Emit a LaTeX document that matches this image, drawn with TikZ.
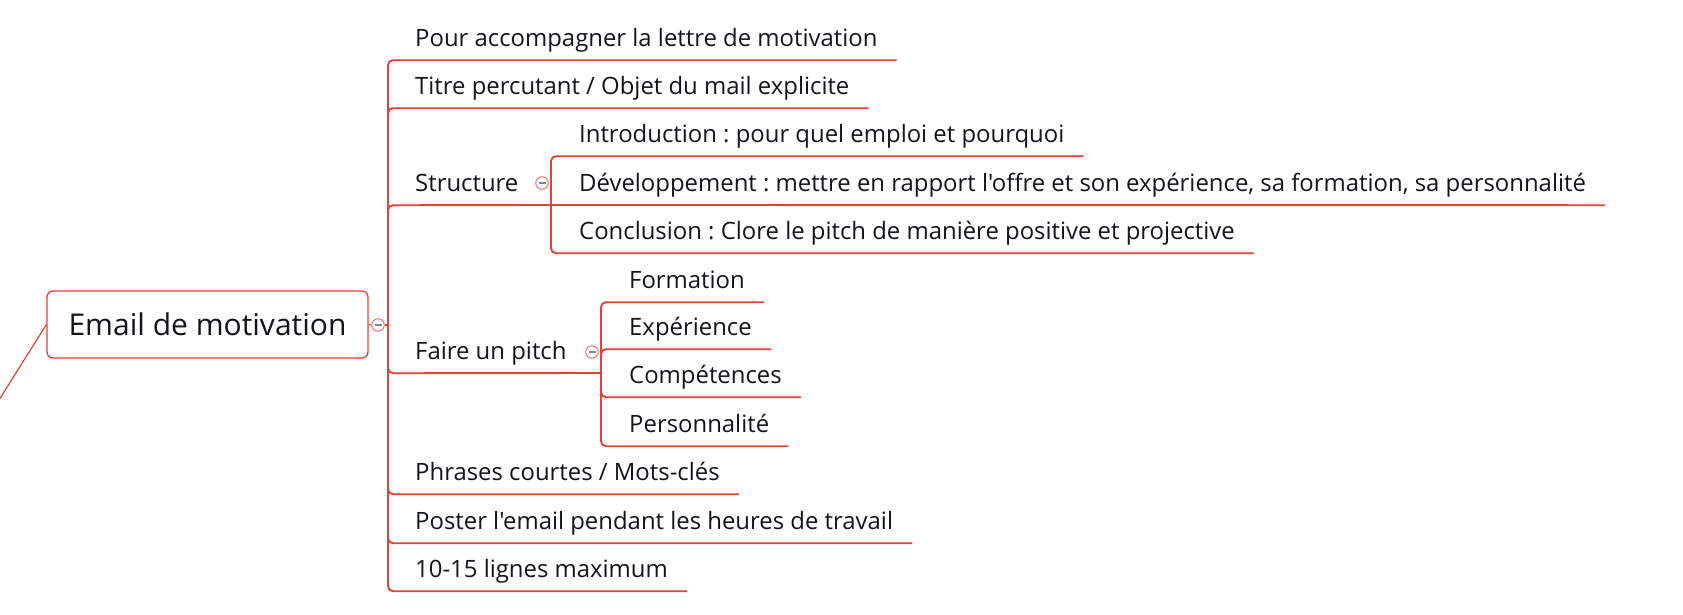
\documentclass[tikz,border=0pt]{standalone}
\usepackage{fontspec}
\setmainfont{Open Sans}[Ligatures=TeXOff]
\frenchspacing
\usetikzlibrary{calc}
\definecolor{branchred}{RGB}{226,66,56}
\definecolor{inkdark}{RGB}{20,20,26}
\definecolor{togglegrey}{RGB}{120,135,165}

\begin{document}
\begin{tikzpicture}[x=1pt, y=-1pt,
  link/.style={draw=branchred, line width=1.9pt, rounded corners=5pt},
  thinlink/.style={draw=branchred, line width=1.2pt},
  topic/.style={anchor=base west, inner sep=0pt, text depth=14pt, text=inkdark, font=\fontsize{23.9}{28}\selectfont},
  central/.style={draw=branchred, line width=1.3pt, rounded corners=6pt, minimum width=321pt, minimum height=67pt, inner sep=0pt, text=inkdark, font=\fontsize{30}{36}\selectfont},
  toggle/.style={circle, draw=branchred!75, line width=1pt, fill=white, minimum size=12.5pt, inner sep=0pt,
    path picture={\draw[togglegrey, line width=1.1pt] ($(path picture bounding box.center)+(-3.5pt,0)$) -- ++(7pt,0);}}]
\useasboundingbox (0,0) rectangle (1683,614);

% root
\node[central] (root) at (207.5,324.5) {Email de motivation};
\node[toggle] (t0) at (378,325) {};
\coordinate (j0) at (388,325);
\coordinate (parent) at (-6,408);

% first level
\node[topic] (lettre) at (415,46) {Pour accompagner la lettre de motivation};
\node[topic] (titre) at (415,94) {Titre percutant / Objet du mail explicite};
\node[topic] (structure) at (415,191) {Structure};
\node[topic] (pitch) at (415,359) {Faire un pitch};
\node[topic] (phrases) at (415,480) {Phrases courtes / Mots-clés};
\node[topic] (poster) at (415,529) {Poster l'email pendant les heures de travail};
\node[topic] (lignes) at (415,577) {10-15 lignes maximum};

% structure
\coordinate (j1) at (551,205);
\node[toggle] (t1) at (542,183) {};
\node[topic] (intro) at (579,142) {Introduction : pour quel emploi et pourquoi};
\node[topic] (devel) at (579,191) {Développement : mettre en rapport l'offre et son expérience, sa formation, sa personnalité};
\node[topic] (conclu) at (579,239) {Conclusion : Clore le pitch de manière positive et projective};

% pitch
\coordinate (j2) at (601,373);
\node[toggle] (t2) at (592,352) {};
\node[topic] (formation) at (629,288) {Formation};
\node[topic] (experience) at (629,335) {Expérience};
\node[topic] (competences) at (629,383) {Compétences};
\node[topic] (personnalite) at (629,432) {Personnalité};

\draw[thinlink] (root.west) -- (parent);
\draw[thinlink] (root.east) -- (t0.west);
\draw[thinlink] (t0.east) -- (j0);
\foreach \k in {lettre, titre, phrases, poster, lignes}
  \draw[link] (j0) |- (\k.south west) -- ([xshift=19pt]\k.south east);
\draw[link] (j0) |- (structure.south west) -- (j1);
\draw[link] (j0) |- (pitch.south west) -- (j2);

\foreach \k in {intro, conclu}
  \draw[link] (j1) |- (\k.south west) -- ([xshift=19pt]\k.south east);
\draw[link] (j1) -- ([xshift=19pt]devel.south east);

\foreach \k in {formation, experience, competences, personnalite}
  \draw[link] (j2) |- (\k.south west) -- ([xshift=19pt]\k.south east);
\end{tikzpicture}
\end{document}
